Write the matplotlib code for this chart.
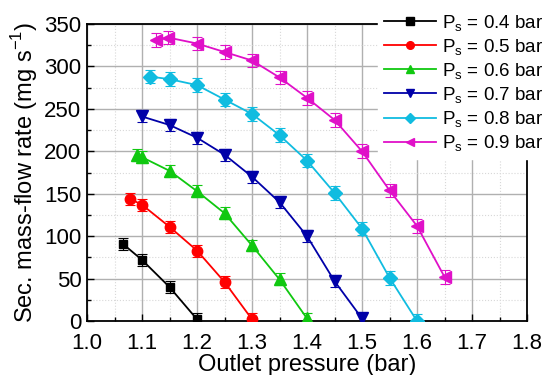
import matplotlib
matplotlib.use("Agg")
import matplotlib.pyplot as plt
from matplotlib.ticker import MultipleLocator

plt.rcParams['font.family'] = ['Liberation Sans', 'DejaVu Sans']
plt.rcParams['mathtext.fontset'] = 'custom'
plt.rcParams['mathtext.rm'] = 'Liberation Sans'

# secondary supply pressures (bar)
ps_labels = ["0.4", "0.5", "0.6", "0.7", "0.8", "0.9"]

# outlet pressure (bar) and secondary mass-flow rate (mg/s) per supply pressure
p_out_04 = [1.065, 1.10, 1.15, 1.20]
flow_04 = [91, 72, 40, 2]

p_out_05 = [1.078, 1.10, 1.15, 1.20, 1.25, 1.30]
flow_05 = [144, 137, 111, 83, 46, 2]

p_out_06 = [1.09, 1.10, 1.15, 1.20, 1.25, 1.30, 1.35, 1.40]
flow_06 = [196, 193, 177, 153, 127, 89, 49, 3]

p_out_07 = [1.10, 1.15, 1.20, 1.25, 1.30, 1.35, 1.40, 1.45, 1.50]
flow_07 = [241, 231, 216, 196, 170, 140, 100, 47, 3]

p_out_08 = [1.115, 1.15, 1.20, 1.25, 1.30, 1.35, 1.40, 1.45, 1.50, 1.55, 1.60]
flow_08 = [288, 285, 278, 261, 244, 219, 189, 151, 109, 51, 0]

p_out_09 = [1.125, 1.148, 1.20, 1.25, 1.30, 1.35, 1.40, 1.45, 1.50, 1.55, 1.60, 1.65]
flow_09 = [331, 334, 327, 317, 307, 287, 263, 237, 200, 154, 112, 52]

# measurement uncertainty (mg/s)
flow_err = [7, 7, 7, 7, 8, 8]

xs = [p_out_04, p_out_05, p_out_06, p_out_07, p_out_08, p_out_09]
ys = [flow_04, flow_05, flow_06, flow_07, flow_08, flow_09]
colors = ['#000000', '#ff0000', '#10c810', '#0000a8', '#10bce0', '#e010c8']
markers = ['s', 'o', '^', 'v', 'D', '<']
msizes = [6, 7.5, 8, 8, 7, 8]

fig = plt.figure(figsize=(5.46, 3.75), dpi=100)
ax = fig.add_axes([87/546, 1-321/375, 440/546, 297/375])

handles = []
for x, y, c, m, ms, e, lab in zip(xs, ys, colors, markers, msizes, flow_err, ps_labels):
    ax.errorbar(x, y, yerr=e, color=c, ecolor=c, elinewidth=0.8, capsize=3.5,
                capthick=0.8, fmt='none', zorder=3)
    h, = ax.plot(x, y, color=c, marker=m, markersize=ms, linewidth=1.3,
                 label=r'$\mathregular{P_s}$ = ' + lab + ' bar', zorder=4)
    handles.append(h)

ax.set_xlim(1.0, 1.8)
ax.set_ylim(0, 350)
ax.xaxis.set_major_locator(MultipleLocator(0.1))
ax.xaxis.set_minor_locator(MultipleLocator(0.05))
ax.yaxis.set_major_locator(MultipleLocator(50))
ax.yaxis.set_minor_locator(MultipleLocator(25))
ax.set_xticklabels([f"{v:.1f}" for v in ax.get_xticks()])

ax.grid(which='major', color='#b0b0b0', linewidth=1.0)
ax.grid(which='minor', color='#d8d8d8', linewidth=0.8, linestyle=':')
ax.set_axisbelow(True)

ax.tick_params(which='both', direction='in', labelsize=16)
ax.tick_params(axis='x', pad=8.5)
ax.tick_params(axis='y', pad=4)
ax.tick_params(which='major', length=5, width=1)
ax.tick_params(which='minor', length=3, width=1)
for s in ax.spines.values():
    s.set_linewidth(1.3)

ax.set_xlabel('Outlet pressure (bar)', fontsize=17, labelpad=0)
ax.set_ylabel(r'Sec. mass-flow rate (mg s$^{\mathregular{-1}}$)', fontsize=17, labelpad=3)

leg = fig.legend(handles=handles, loc='upper left', bbox_to_anchor=(378/546, 1-7/375),
                 fontsize=13.5, frameon=True, fancybox=False, edgecolor='white',
                 facecolor='white', framealpha=1, handlelength=2.8,
                 handletextpad=0.3, labelspacing=0.22, borderpad=0.3,
                 borderaxespad=0)
for lh in leg.legend_handles:
    lh.set_markersize(5.5)

fig.savefig('out.png', dpi=100)
